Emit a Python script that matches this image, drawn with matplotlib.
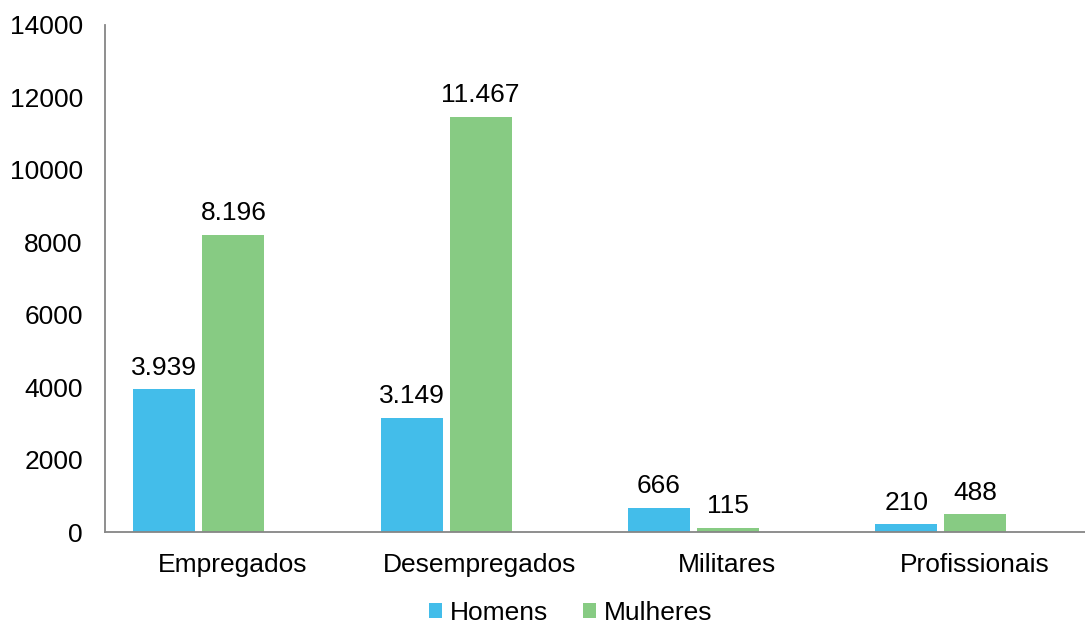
import matplotlib
matplotlib.use("Agg")
import matplotlib.pyplot as plt
import numpy as np

plt.rcParams['font.family'] = ['Liberation Sans', 'DejaVu Sans']

categorias = ['Empregados', 'Desempregados', 'Militares', 'Profissionais']
homens = [3939, 3149, 666, 210]
mulheres = [8196, 11467, 115, 488]
cor_homens = '#43BDEA'
cor_mulheres = '#87CB83'

fig = plt.figure(figsize=(10.85, 6.26), dpi=100)
ax = fig.add_axes([105 / 1085, 94 / 626, 980 / 1085, 507 / 626])

x = np.arange(len(categorias))
larg = 0.251
b1 = ax.bar(x - 0.26, homens, larg, color=cor_homens, label='Homens')
b2 = ax.bar(x + 0.019, mulheres, larg, color=cor_mulheres, label='Mulheres')

def fmt(v):
    return '{:,}'.format(v).replace(',', '.')

for barras, vals in ((b1, homens), (b2, mulheres)):
    for b, v in zip(barras, vals):
        ax.annotate(fmt(v), (b.get_x() + b.get_width() / 2, v),
                    xytext=(0, 7), textcoords='offset points',
                    ha='center', va='bottom', fontsize=19)

ax.set_xlim(-0.5, 980 / 247.3 - 0.5)
ax.set_ylim(0, 14000)
ax.set_yticks(range(0, 14001, 2000))
ax.set_xticks(x + 0.016)
ax.set_xticklabels(categorias)
ax.tick_params(axis='both', length=0, labelsize=19)
ax.tick_params(axis='x', pad=15)
ax.tick_params(axis='y', pad=16)
for s in ['top', 'right']:
    ax.spines[s].set_visible(False)
for s in ['left', 'bottom']:
    ax.spines[s].set_color('#868686')
    ax.spines[s].set_linewidth(1.3)

fig.legend(loc='lower center', bbox_to_anchor=(0.526, -0.036), ncol=2,
           frameon=False, fontsize=19, handlelength=0.5, handleheight=0.5,
           handletextpad=0.3, columnspacing=1.3)

fig.savefig('out.png', dpi=100)
